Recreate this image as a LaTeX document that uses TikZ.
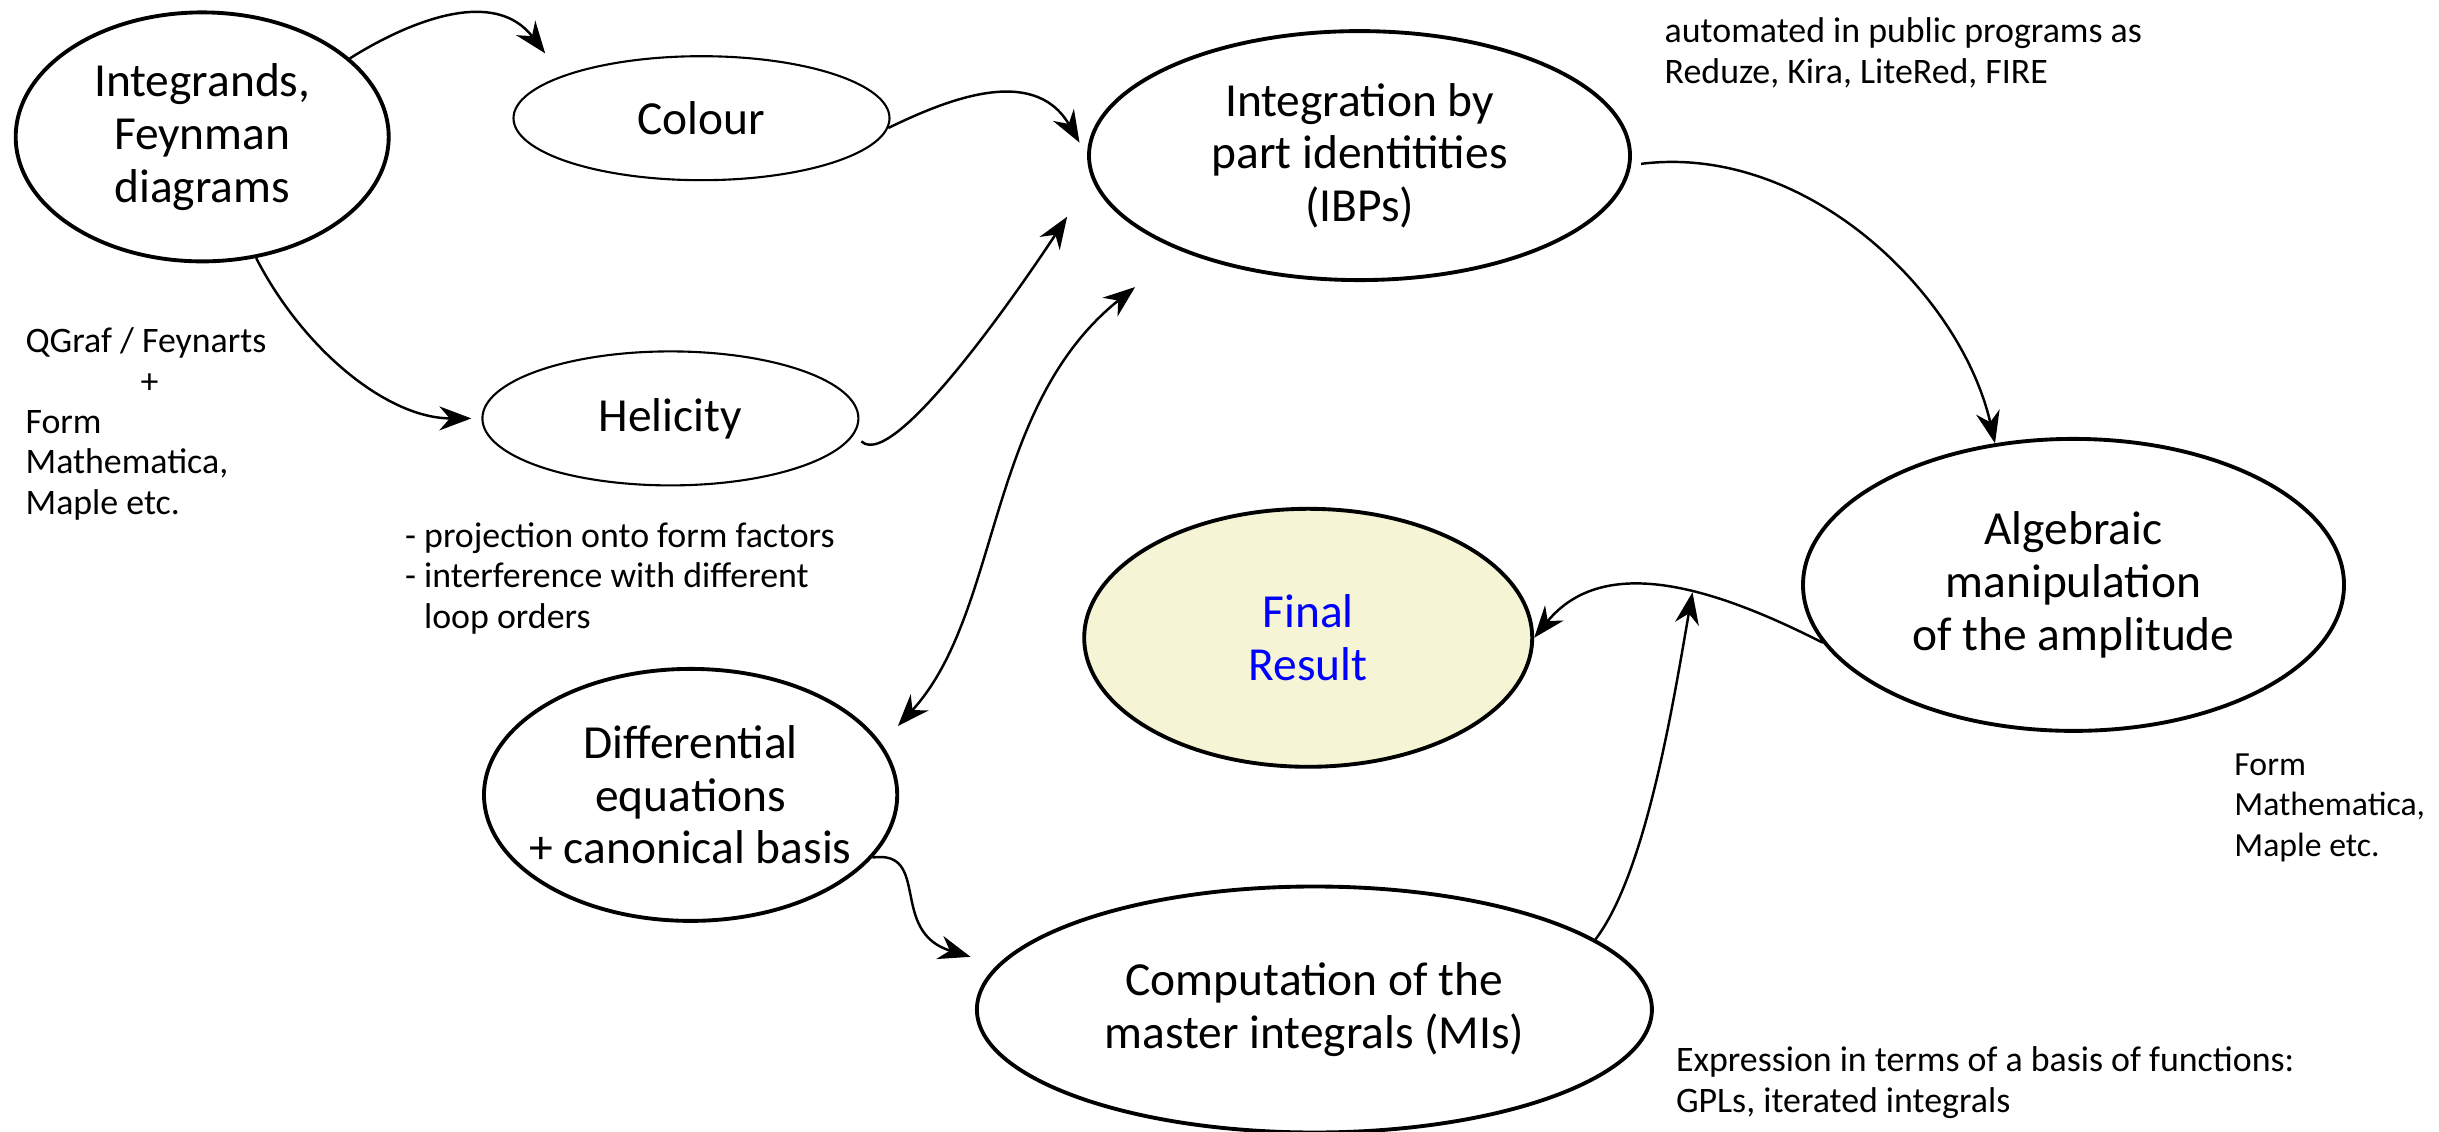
\documentclass[tikz,border=0pt]{standalone}
\usepackage{fontspec}
\setmainfont{Carlito}
\usepackage{tikz}
\usetikzlibrary{arrows.meta,shapes.geometric}
\definecolor{resultfill}{HTML}{F5F4D4}
\definecolor{resultblue}{HTML}{0000FF}

\tikzset{
  bignode/.style={ellipse, draw, line width=1.1pt, inner sep=-1.5mm, align=center,
    font=\fontsize{13.5}{15}\selectfont},
  smallnode/.style={bignode, line width=0.6pt},
  note/.style={anchor=north west, inner sep=0pt, align=left,
    font=\fontsize{10.2}{11.5}\selectfont},
  flow/.style={line width=0.7pt, >={Stealth[length=3.2mm,width=2.4mm]}, ->},
}

\begin{document}
\begin{tikzpicture}
         \useasboundingbox (0,0) rectangle (24.39,-11.32);

         % steps
         \node[bignode, minimum width=3.73cm, minimum height=2.49cm] (integrands) at (2.022,-1.369) {Integrands,\\Feynman\\diagrams};
         \node[smallnode, minimum width=3.76cm, minimum height=1.24cm] (colour) at (7.015,-1.182) {Colour};
         \node[smallnode, minimum width=3.76cm, minimum height=1.34cm] (helicity) at (6.704,-4.184) {Helicity};
         \node[bignode, minimum width=5.41cm, minimum height=2.49cm] (ibp) at (13.595,-1.556) {Integration by\\part identitities\\(IBPs)};
         \node[bignode, minimum width=5.41cm, minimum height=2.92cm] (algebra) at (20.735,-5.849) {Algebraic\\manipulation\\of the amplitude};
         \node[bignode, fill=resultfill, text=resultblue, minimum width=4.48cm, minimum height=2.58cm] (result) at (13.082,-6.378) {Final\\Result};
         \node[bignode, minimum width=4.04cm, minimum height=2.52cm] (diffeq) at (6.906,-7.949) {Differential\\equations\\+ canonical basis};
         \node[bignode, minimum width=6.75cm, minimum height=2.46cm] (masters) at (13.144,-10.095) {Computation of the\\master integrals (MIs)};

         % notes
         \node[note] (ibptools) at (16.64,-0.17) {automated in public programs as\\Reduze, Kira, LiteRed, FIRE};
         \node[note] (gentools) at (0.249,-3.27) {QGraf / Feynarts\\\hspace*{1.15cm}+\\Form\\Mathematica,\\Maple etc.};
         \node[note] (projnote) at (4.044,-5.22) {- projection onto form factors\\- interference with different\\\hspace*{0.19cm}loop orders};
         \node[note, font=\fontsize{9.6}{11.5}\selectfont] (algtools) at (22.337,-7.53) {Form\\Mathematica,\\Maple etc.};
         \node[note] (funcnote) at (16.753,-10.46) {Expression in terms of a basis of functions:\\GPLs, iterated integrals};

         % connectors
         \draw[flow, shorten >=0.28cm] (integrands.28) .. controls +(0.59,0.37) and +(-0.68,0.89) .. (colour.163);
         \draw[flow, shorten >=0.15cm] (colour.-3) .. controls +(0.54,0.26) and +(-0.54,0.93) .. (ibp.west);
         \draw[flow, shorten >=0.1cm] (integrands.-66) .. controls +(0.48,-0.93) and +(-0.93,0) .. (helicity.west);
         \draw[flow, shorten <=0.1cm, shorten >=0.45cm] (helicity.-5) .. controls +(0.42,-0.40) and +(-0.51,-0.78) .. (ibp.185);
         \draw[flow, <->, shorten <=0.58cm, shorten >=0.24cm] (ibp.208) .. controls +(-1.95,-1.56) and +(1.20,1.31) .. (diffeq.15);
         \draw[flow, shorten <=0.1cm] (ibp.-2) .. controls +(1.76,0.22) and +(-0.34,1.49) .. (algebra.119);
         \draw[flow] (algebra.193) .. controls +(-1.06,0.54) and +(0.70,0.86) .. (result.east) coordinate[pos=0.41] (merge);
         \draw[flow] (masters.14) .. controls +(0.51,0.67) and +(-0.19,-1.09) .. (merge);
         \draw[flow, shorten >=0.28cm] (diffeq.-19) .. controls +(0.59,0.08) and +(-1.09,0.33) .. (masters.172);
      \end{tikzpicture}
\end{document}
